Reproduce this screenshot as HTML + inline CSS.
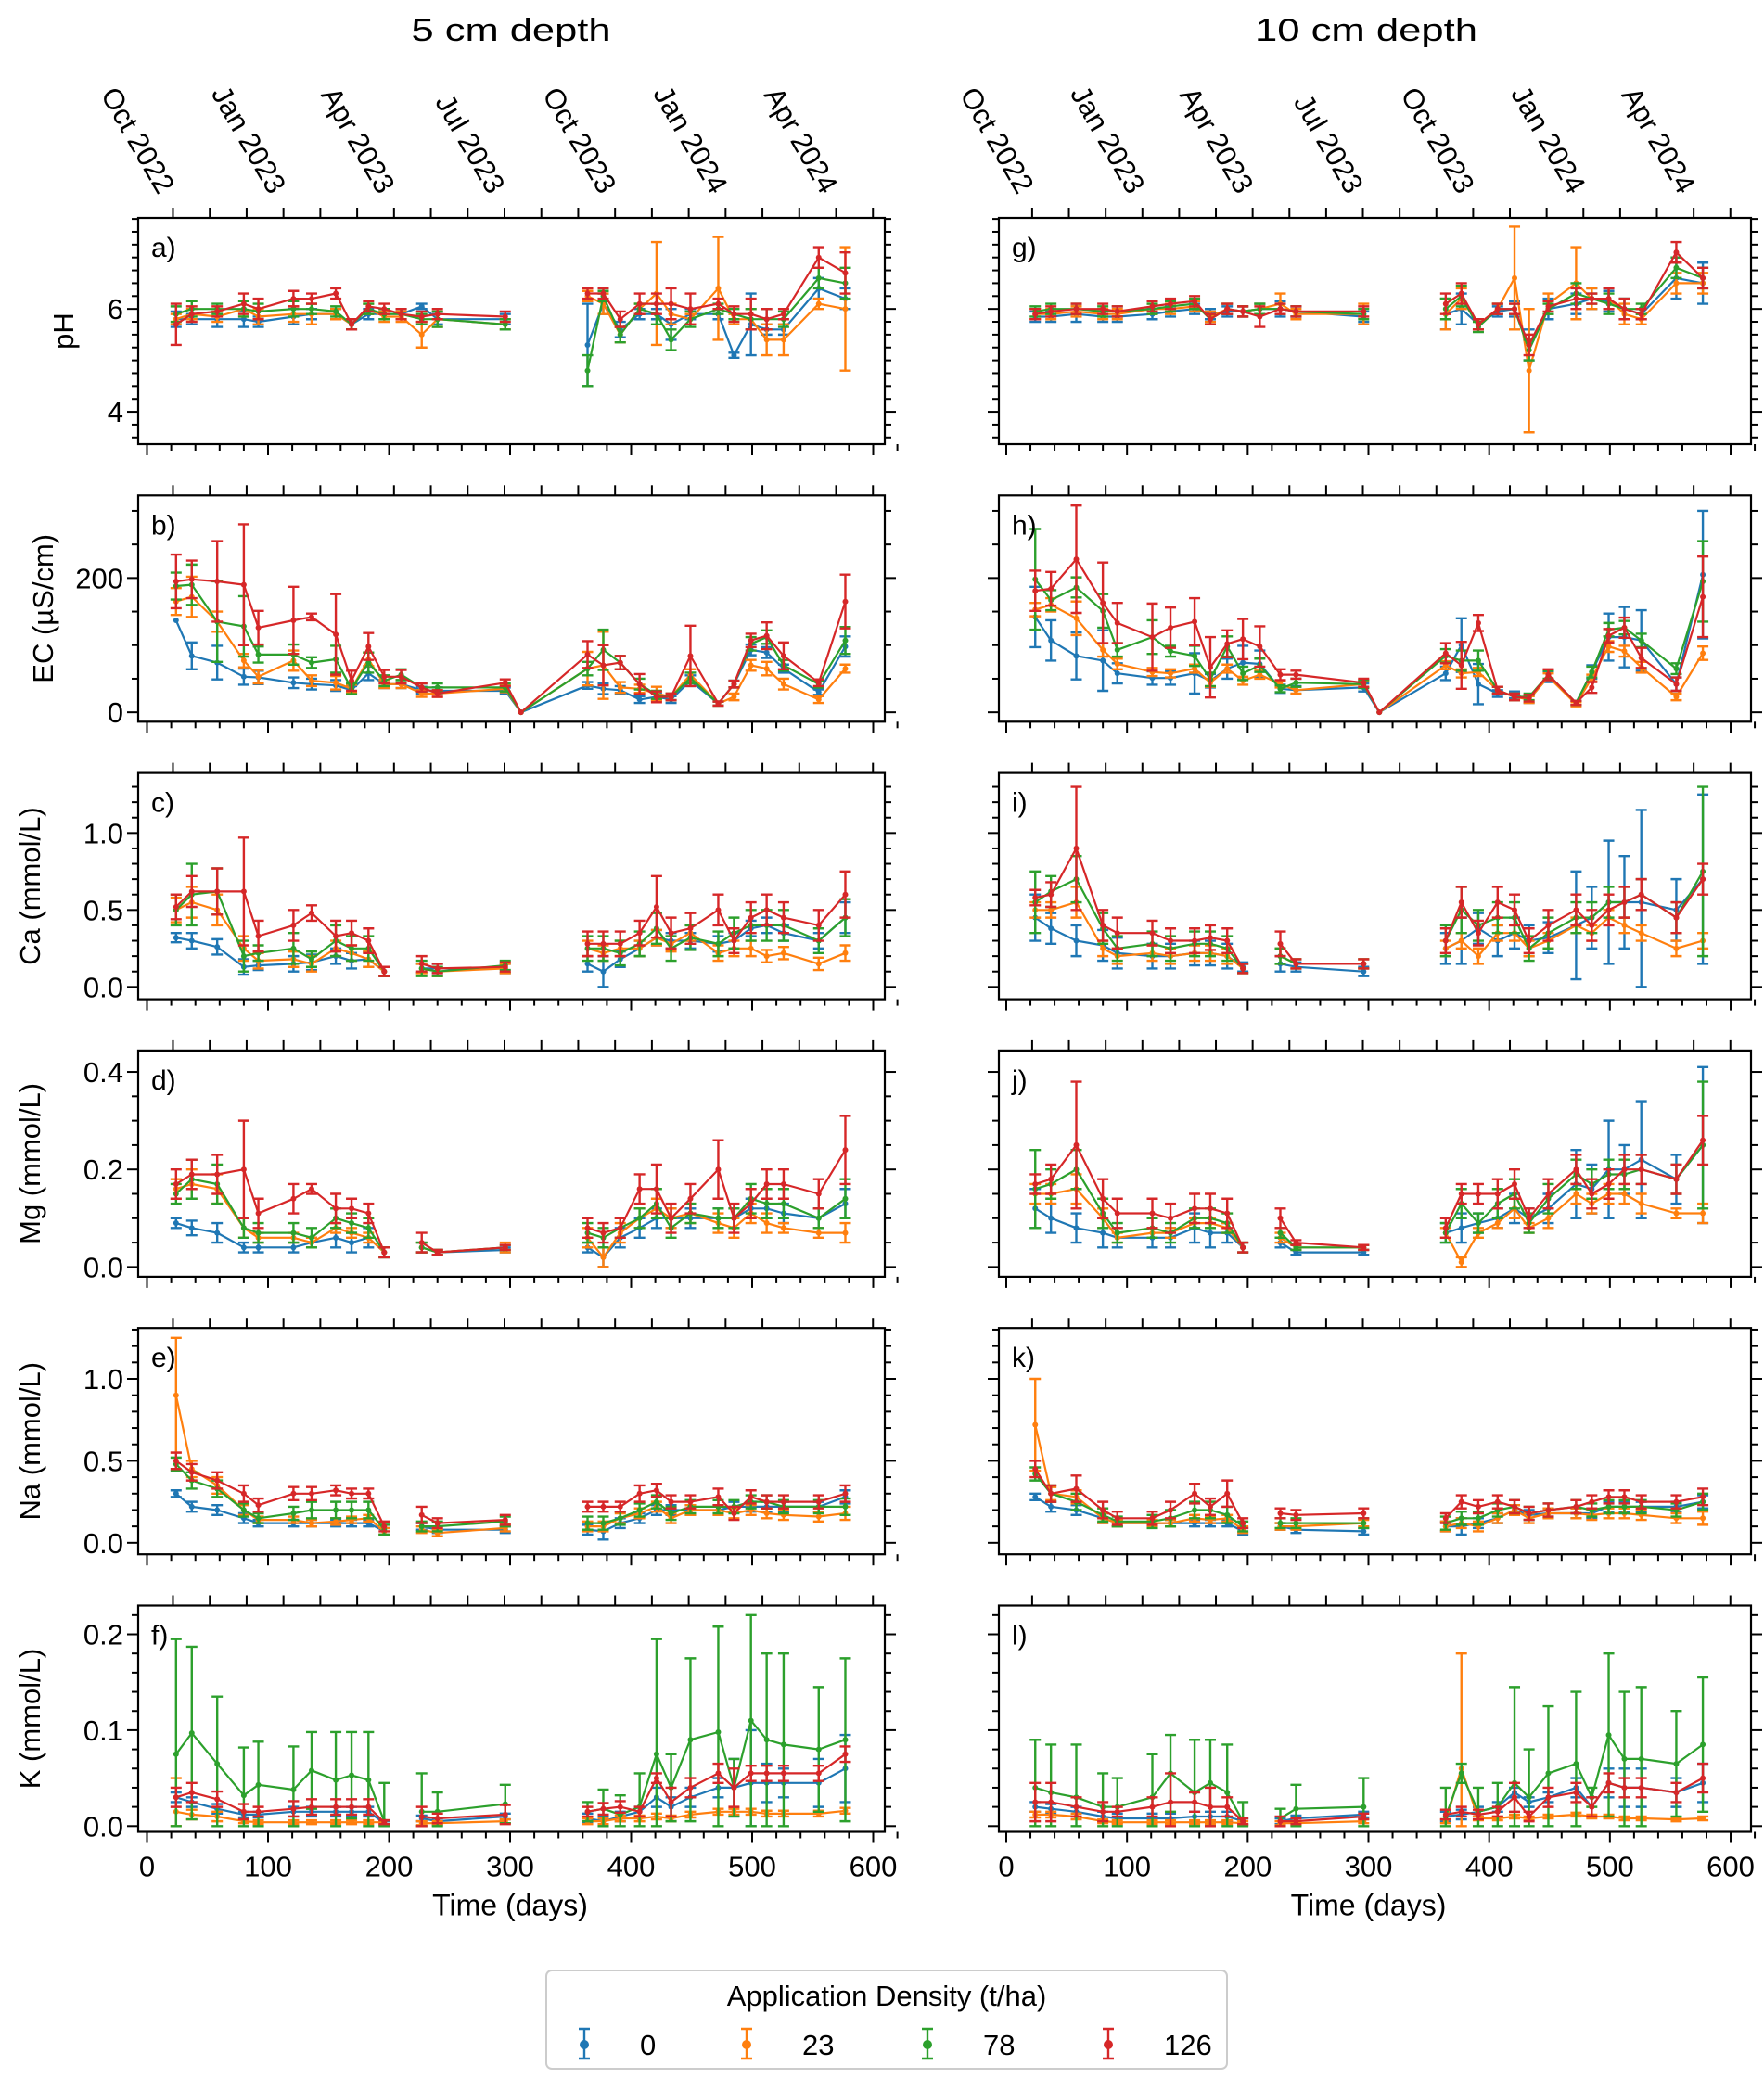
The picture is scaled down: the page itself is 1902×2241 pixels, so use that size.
<!DOCTYPE html>
<html><head><meta charset="utf-8"><style>
html,body{margin:0;padding:0;background:#fff;}
svg{display:block;font-family:"Liberation Sans","DejaVu Sans",sans-serif;}
</style></head><body>
<svg id="fig" width="1902" height="2241" viewBox="0 0 1902 2241" xmlns="http://www.w3.org/2000/svg">
<text x="551" y="44" font-size="34" text-anchor="middle" textLength="215" lengthAdjust="spacingAndGlyphs">5 cm depth</text>
<text x="1473" y="44" font-size="34" text-anchor="middle" textLength="240" lengthAdjust="spacingAndGlyphs">10 cm depth</text>
<g id="plots"></g>
<g>
<rect x="589" y="2125" width="734" height="106" rx="6" fill="#fff" stroke="#ccc" stroke-width="2"/>
<text x="956" y="2163" font-size="31" text-anchor="middle">Application Density (t/ha)</text>
<g id="legend-items"></g>
</g>
</svg>
<script>
const times=[24,37,58,80,92,121,136,156,169,183,196,210,227,240,296,309,364,377,391,407,421,433,449,472,485,499,512,526,555,577];
const seriesLabels=['0','23','78','126'];
const monthTickLabels=['Oct 2022','Jan 2023','Apr 2023','Jul 2023','Oct 2023','Jan 2024','Apr 2024'];
const monthTickDays=[11,103,193,284,376,468,559];
const xTickLabels=[0,100,200,300,400,500,600];

// pH 5 cm
const ph5_0=[5.8,5.8,5.8,5.8,5.75,5.85,5.9,5.9,5.7,5.9,5.9,5.9,6.05,5.8,5.8,null,5.3,6.1,5.6,5.9,5.9,5.7,5.9,5.9,5.1,5.7,5.6,5.6,6.4,6.2];
const ph5_0e=[.15,.1,.15,.15,.1,.15,.1,.1,.1,.1,.1,.1,.05,.1,.1,null,.8,.2,.15,.1,.1,.3,.1,.1,.05,.6,.1,.1,.2,.2];
const ph5_23=[5.8,5.9,5.85,6.0,5.85,5.9,5.9,5.9,5.7,6.0,5.85,5.85,5.5,5.8,5.7,null,6.25,6.1,5.5,6.0,6.3,5.9,5.8,6.4,5.8,5.8,5.4,5.4,6.1,6.0];
const ph5_23e=[.1,.1,.1,.15,.15,.15,.2,.1,.1,.1,.1,.1,.25,.15,.1,null,.1,.2,.15,.1,1.0,.2,.1,1.0,.1,.2,.3,.3,.1,1.2];
const ph5_78=[5.9,6.0,6.0,6.0,5.95,6.0,6.0,5.95,5.7,6.0,5.9,5.9,5.8,5.8,5.7,null,4.8,6.25,5.5,6.0,5.9,5.4,5.8,6.0,5.9,5.8,5.8,5.8,6.6,6.5];
const ph5_78e=[.15,.15,.1,.15,.15,.15,.1,.1,.1,.1,.1,.1,.1,.15,.1,null,.3,.1,.15,.1,.2,.2,.15,.1,.1,.2,.2,.15,.2,.3];
const ph5_126=[5.7,5.9,5.95,6.1,6.0,6.2,6.2,6.3,5.7,6.05,6.0,5.9,5.85,5.9,5.85,null,6.3,6.3,5.8,6.1,6.1,6.1,6.0,6.1,5.9,5.9,5.8,5.9,7.0,6.7];
const ph5_126e=[.4,.15,.1,.2,.2,.15,.1,.1,.1,.1,.1,.1,.1,.1,.1,null,.1,.1,.15,.2,.2,.3,.3,.1,.15,.3,.2,.1,.2,.4];
// pH 10 cm
const ph10_0=[5.85,5.85,5.9,5.85,5.85,5.9,5.95,6.0,5.9,5.95,5.95,6.0,6.0,5.95,5.85,null,5.9,6.0,5.7,5.95,6.0,5.3,6.0,6.1,6.2,6.15,6.0,5.9,6.6,6.5];
const ph10_0e=[.1,.1,.15,.1,.1,.1,.1,.1,.1,.1,.1,.1,.15,.1,.1,null,.3,.3,.1,.1,.15,.3,.2,.2,.2,.2,.2,.1,.4,.4];
const ph10_23=[5.9,5.9,5.95,5.9,5.9,6.0,6.0,6.05,5.85,6.0,5.95,6.0,6.1,5.9,5.9,null,5.9,6.2,5.7,6.0,6.6,4.8,6.1,6.5,6.2,6.2,5.9,5.8,6.5,6.5];
const ph10_23e=[.1,.1,.1,.1,.1,.1,.1,.1,.1,.1,.1,.1,.2,.1,.2,null,.3,.2,.1,.1,1.0,1.2,.2,.7,.2,.2,.2,.1,.2,.2];
const ph10_78=[5.95,6.0,6.0,5.95,5.95,6.0,6.05,6.1,5.8,6.0,5.95,6.0,6.0,5.95,5.9,null,6.0,6.25,5.65,6.0,6.0,5.2,6.0,6.3,6.2,6.1,6.0,6.0,6.8,6.6];
const ph10_78e=[.1,.1,.1,.1,.1,.1,.1,.1,.1,.1,.1,.1,.1,.1,.1,null,.2,.2,.1,.1,.1,.2,.1,.2,.1,.2,.2,.1,.2,.2];
const ph10_126=[5.9,5.95,6.0,6.0,5.95,6.05,6.1,6.15,5.8,6.0,5.95,5.85,6.0,5.95,5.95,null,6.1,6.3,5.7,6.0,6.0,5.3,6.05,6.2,6.2,6.2,6.0,5.9,7.1,6.6];
const ph10_126e=[.1,.1,.1,.1,.1,.1,.1,.1,.1,.1,.1,.2,.1,.1,.1,null,.2,.2,.1,.1,.1,.2,.1,.2,.1,.2,.2,.1,.2,.2];
// EC 5 cm
const ec5_0=[137,84,74,53,52,44,42,40,33,58,42,42,33,32,32,0,40,35,33,19,23,19,47,13,42,93,89,65,30,98];
const ec5_0e=[0,20,25,12,10,8,8,8,6,10,6,6,5,5,5,0,5,8,6,5,5,5,8,3,5,8,8,6,4,15];
const ec5_23=[165,172,135,77,53,77,47,44,35,79,42,42,28,28,35,0,65,70,37,35,28,23,56,13,23,70,65,42,19,65];
const ec5_23e=[20,30,15,10,10,15,8,10,6,10,6,6,5,5,5,0,25,50,8,6,10,5,8,3,5,8,10,8,5,6];
const ec5_78=[188,190,135,128,86,86,74,79,35,74,47,56,37,37,37,0,65,93,74,42,26,23,51,13,42,102,112,70,42,107];
const ec5_78e=[20,30,60,45,12,15,8,20,8,15,8,8,6,6,6,0,10,30,10,8,6,5,8,3,5,10,10,8,5,20];
const ec5_126=[195,198,195,190,126,137,142,116,47,98,53,53,37,28,44,0,86,70,74,42,23,23,84,13,42,107,114,84,44,165];
const ec5_126e=[40,28,60,90,25,50,5,60,15,20,10,10,6,5,5,0,20,30,10,15,8,5,45,3,5,10,20,20,5,40];
// EC 10 cm
const ec10_0=[142,107,84,77,58,51,51,58,47,65,74,72,35,33,37,0,58,100,42,28,26,19,53,14,60,112,112,107,42,205];
const ec10_0e=[45,30,35,45,15,10,10,30,10,15,25,20,6,6,6,0,10,40,30,5,5,5,8,3,10,35,45,45,10,95];
const ec10_23=[153,160,140,93,72,60,58,65,44,65,47,56,42,33,42,0,70,58,60,33,23,19,53,12,51,98,91,67,23,88];
const ec10_23e=[10,10,25,10,8,6,6,6,6,6,6,6,5,5,5,0,6,6,6,5,5,5,5,3,5,8,8,8,5,10];
const ec10_78=[198,167,186,151,93,112,91,84,49,98,58,70,35,44,42,0,84,77,77,33,23,23,56,14,60,123,126,107,65,195];
const ec10_78e=[75,15,15,25,10,25,8,15,10,15,10,10,5,6,6,0,10,15,15,5,5,5,6,3,8,10,10,10,8,60];
const ec10_126=[181,184,228,163,133,112,126,135,67,102,109,98,56,56,44,0,88,70,133,33,23,21,56,14,37,114,126,81,42,172];
const ec10_126e=[30,25,80,60,30,50,30,35,45,20,30,30,8,6,6,0,15,35,12,5,5,5,8,3,8,10,15,15,10,60];
// Ca 5 cm
const ca5_0=[0.32,0.30,0.26,0.13,0.14,0.15,0.16,0.20,0.17,0.18,0.10,null,0.12,0.12,0.12,null,0.15,0.10,0.18,0.25,0.32,0.30,0.30,0.28,0.30,0.38,0.40,0.35,0.30,0.45];
const ca5_0e=[.03,.05,.05,.05,.03,.05,.05,.05,.05,.05,.03,null,.03,.03,.03,null,.05,.1,.05,.05,.05,.05,.05,.05,.05,.05,.05,.05,.05,.1];
const ca5_23=[0.50,0.55,0.50,0.25,0.17,0.18,0.15,0.25,0.22,0.18,0.10,null,0.12,0.10,0.12,null,0.25,0.22,0.25,0.25,0.32,0.28,0.35,0.22,0.25,0.25,0.20,0.22,0.15,0.22];
const ca5_23e=[.08,.1,.1,.08,.05,.05,.05,.05,.05,.05,.03,null,.03,.03,.03,null,.05,.05,.05,.05,.05,.05,.05,.05,.05,.05,.04,.04,.04,.05];
const ca5_78=[0.50,0.60,0.62,0.20,0.22,0.25,0.18,0.30,0.25,0.25,0.10,null,0.12,0.10,0.14,null,0.25,0.25,0.22,0.28,0.38,0.25,0.32,0.28,0.35,0.40,0.40,0.40,0.30,0.45];
const ca5_78e=[.1,.2,.15,.1,.05,.1,.05,.1,.08,.08,.03,null,.05,.03,.03,null,.08,.08,.08,.08,.1,.08,.08,.08,.1,.1,.1,.1,.08,.12];
const ca5_126=[0.52,0.62,0.62,0.62,0.33,0.40,0.48,0.33,0.35,0.30,0.10,null,0.15,0.12,0.13,null,0.28,0.28,0.28,0.35,0.52,0.35,0.38,0.50,0.30,0.45,0.50,0.45,0.40,0.60];
const ca5_126e=[.08,.1,.15,.35,.1,.1,.05,.1,.08,.08,.03,null,.05,.03,.03,null,.08,.08,.08,.08,.2,.1,.1,.1,.08,.1,.1,.1,.1,.15];
// Ca 10 cm
const ca10_0=[0.45,0.38,0.30,0.27,0.22,0.20,0.20,0.22,0.22,0.20,0.13,null,0.15,0.13,0.10,null,0.25,0.30,0.38,0.30,0.35,0.30,0.32,0.40,0.45,0.55,0.55,0.55,0.50,0.70];
const ca10_0e=[.15,.1,.1,.1,.1,.08,.08,.08,.08,.08,.03,null,.05,.03,.03,null,.1,.15,.1,.1,.1,.1,.1,.35,.2,.4,.3,.6,.2,.55];
const ca10_23=[0.50,0.50,0.55,0.25,0.20,0.22,0.20,0.22,0.22,0.20,0.12,null,0.20,0.15,0.15,null,0.25,0.30,0.20,0.35,0.35,0.25,0.30,0.40,0.35,0.45,0.40,0.35,0.25,0.30];
const ca10_23e=[.05,.05,.1,.05,.05,.05,.05,.05,.05,.05,.03,null,.05,.03,.03,null,.05,.05,.05,.05,.05,.05,.05,.05,.05,.05,.05,.05,.05,.05];
const ca10_78=[0.55,0.62,0.70,0.38,0.25,0.28,0.25,0.28,0.28,0.25,0.12,null,0.20,0.15,0.15,null,0.30,0.50,0.40,0.45,0.45,0.25,0.35,0.45,0.45,0.55,0.55,0.60,0.45,0.75];
const ca10_78e=[.2,.1,.15,.1,.08,.08,.08,.08,.08,.08,.03,null,.05,.03,.03,null,.1,.15,.1,.1,.1,.08,.1,.1,.1,.1,.1,.1,.1,.55];
const ca10_126=[0.58,0.60,0.90,0.40,0.35,0.35,0.30,0.30,0.32,0.30,0.12,null,0.28,0.15,0.15,null,0.30,0.55,0.35,0.55,0.50,0.30,0.40,0.50,0.40,0.50,0.55,0.60,0.45,0.70];
const ca10_126e=[.05,.08,.4,.1,.1,.08,.08,.08,.08,.08,.03,null,.08,.03,.03,null,.08,.1,.08,.1,.1,.08,.1,.1,.1,.1,.1,.1,.1,.1];
// Mg 5 cm
const mg5_0=[0.09,0.08,0.07,0.04,0.04,0.04,0.05,0.06,0.05,0.06,0.03,null,0.04,0.03,0.035,null,0.04,0.02,0.06,0.08,0.10,0.10,0.10,0.10,0.10,0.12,0.12,0.11,0.10,0.13];
const mg5_0e=[.01,.015,.02,.01,.01,.01,.01,.02,.02,.02,.01,null,.01,.005,.005,null,.01,.02,.02,.02,.02,.02,.02,.02,.02,.02,.02,.02,.02,.03];
const mg5_23=[0.16,0.17,0.16,0.08,0.06,0.06,0.05,0.08,0.07,0.06,0.03,null,0.04,0.03,0.04,null,0.06,0.02,0.07,0.10,0.12,0.10,0.11,0.09,0.08,0.11,0.09,0.08,0.07,0.07];
const mg5_23e=[.02,.03,.03,.02,.01,.01,.01,.01,.01,.01,.01,null,.01,.005,.01,null,.02,.02,.02,.02,.02,.02,.02,.02,.02,.02,.02,.01,.01,.02];
const mg5_78=[0.15,0.18,0.17,0.08,0.07,0.07,0.06,0.10,0.09,0.08,0.03,null,0.04,0.03,0.04,null,0.07,0.06,0.08,0.10,0.13,0.08,0.11,0.10,0.10,0.14,0.13,0.13,0.10,0.14];
const mg5_78e=[.02,.04,.04,.02,.02,.02,.02,.02,.02,.02,.01,null,.01,.005,.005,null,.02,.02,.02,.02,.03,.02,.02,.02,.02,.03,.03,.03,.02,.04];
const mg5_126=[0.17,0.19,0.19,0.20,0.11,0.14,0.16,0.12,0.12,0.11,0.03,null,0.05,0.03,0.04,null,0.08,0.07,0.08,0.16,0.16,0.10,0.14,0.20,0.10,0.13,0.17,0.17,0.15,0.24];
const mg5_126e=[.03,.03,.04,.1,.03,.03,.01,.03,.02,.02,.01,null,.02,.005,.005,null,.02,.02,.02,.03,.05,.03,.03,.06,.03,.03,.03,.03,.03,.07];
// Mg 10 cm
const mg10_0=[0.12,0.10,0.08,0.07,0.06,0.06,0.06,0.08,0.07,0.07,0.04,null,0.05,0.03,0.03,null,0.07,0.08,0.09,0.10,0.12,0.10,0.12,0.17,0.16,0.20,0.20,0.22,0.18,0.25];
const mg10_0e=[.04,.03,.03,.03,.02,.02,.02,.03,.03,.02,.01,null,.01,.005,.005,null,.02,.03,.02,.02,.03,.02,.03,.07,.05,.1,.05,.12,.05,.16];
const mg10_23=[0.15,0.15,0.16,0.10,0.06,0.07,0.07,0.09,0.09,0.08,0.04,null,0.06,0.04,0.04,null,0.07,0.01,0.07,0.09,0.12,0.08,0.10,0.15,0.13,0.15,0.15,0.13,0.11,0.11];
const mg10_23e=[.02,.02,.03,.02,.01,.01,.01,.01,.01,.01,.01,null,.01,.005,.005,null,.01,.01,.01,.01,.02,.01,.02,.02,.02,.02,.02,.02,.01,.02];
const mg10_78=[0.16,0.17,0.20,0.11,0.07,0.08,0.07,0.10,0.10,0.09,0.04,null,0.07,0.04,0.04,null,0.07,0.13,0.09,0.13,0.15,0.09,0.14,0.19,0.17,0.19,0.19,0.20,0.18,0.25];
const mg10_78e=[.08,.03,.04,.03,.02,.02,.02,.02,.02,.02,.01,null,.01,.005,.005,null,.02,.03,.02,.03,.03,.02,.03,.03,.03,.03,.03,.03,.03,.13];
const mg10_126=[0.17,0.18,0.25,0.14,0.11,0.11,0.10,0.12,0.12,0.11,0.04,null,0.10,0.05,0.04,null,0.08,0.15,0.15,0.15,0.17,0.10,0.15,0.20,0.15,0.17,0.20,0.20,0.18,0.26];
const mg10_126e=[.02,.03,.13,.04,.03,.03,.03,.03,.03,.03,.01,null,.02,.005,.005,null,.02,.02,.02,.03,.03,.02,.03,.03,.03,.03,.03,.03,.03,.05];
// Na 5 cm
const na5_0=[0.30,0.22,0.20,0.15,0.12,0.12,0.12,0.12,0.12,0.12,0.07,null,0.10,0.08,0.08,null,0.08,0.07,0.12,0.15,0.20,0.20,0.20,0.20,0.22,0.22,0.22,0.22,0.22,0.28];
const na5_0e=[.02,.03,.03,.03,.02,.02,.02,.02,.02,.02,.02,null,.02,.02,.02,null,.03,.05,.03,.03,.03,.03,.03,.03,.03,.03,.03,.03,.03,.04];
const na5_23=[0.90,0.45,0.35,0.20,0.14,0.14,0.12,0.13,0.14,0.15,0.07,null,0.08,0.06,0.09,null,0.10,0.10,0.15,0.18,0.22,0.15,0.20,0.20,0.18,0.20,0.18,0.17,0.16,0.18];
const na5_23e=[.35,.05,.05,.03,.02,.02,.02,.02,.02,.02,.02,null,.02,.02,.02,null,.03,.03,.03,.03,.03,.03,.03,.03,.03,.03,.03,.03,.03,.04];
const na5_78=[0.48,0.38,0.33,0.20,0.15,0.18,0.20,0.20,0.20,0.20,0.08,null,0.10,0.10,0.13,null,0.12,0.12,0.15,0.20,0.25,0.18,0.22,0.22,0.22,0.25,0.25,0.22,0.22,0.22];
const na5_78e=[.04,.05,.05,.04,.03,.04,.05,.05,.05,.05,.03,null,.03,.03,.03,null,.04,.04,.04,.04,.04,.04,.04,.04,.04,.04,.04,.04,.04,.05];
const na5_126=[0.50,0.43,0.38,0.30,0.23,0.30,0.30,0.32,0.30,0.30,0.10,null,0.17,0.12,0.14,null,0.22,0.22,0.22,0.30,0.32,0.25,0.25,0.28,0.18,0.28,0.25,0.25,0.25,0.30];
const na5_126e=[.05,.05,.05,.05,.04,.04,.04,.03,.03,.03,.03,null,.05,.03,.03,null,.03,.03,.03,.05,.04,.04,.04,.05,.04,.04,.04,.04,.04,.05];
// Na 10 cm
const na10_0=[0.28,0.22,0.20,0.15,0.12,0.12,0.12,0.12,0.12,0.12,0.07,null,0.10,0.08,0.07,null,0.10,0.10,0.12,0.15,0.20,0.17,0.18,0.18,0.18,0.22,0.22,0.22,0.22,0.25];
const na10_0e=[.02,.03,.03,.03,.02,.02,.02,.02,.02,.02,.02,null,.02,.02,.02,null,.03,.05,.03,.03,.03,.03,.03,.03,.03,.03,.03,.03,.03,.04];
const na10_23=[0.72,0.30,0.28,0.15,0.12,0.12,0.12,0.15,0.14,0.15,0.08,null,0.10,0.10,0.12,null,0.10,0.12,0.10,0.15,0.20,0.15,0.18,0.18,0.17,0.18,0.18,0.17,0.15,0.15];
const na10_23e=[.28,.04,.04,.03,.02,.02,.02,.02,.02,.02,.02,null,.02,.02,.02,null,.03,.03,.03,.03,.03,.03,.03,.03,.03,.03,.03,.03,.03,.04];
const na10_78=[0.42,0.30,0.25,0.17,0.13,0.13,0.15,0.20,0.20,0.17,0.10,null,0.12,0.12,0.12,null,0.12,0.15,0.15,0.20,0.22,0.18,0.20,0.22,0.20,0.22,0.22,0.22,0.20,0.25];
const na10_78e=[.04,.05,.05,.04,.03,.04,.05,.05,.05,.05,.03,null,.03,.03,.03,null,.04,.04,.04,.04,.04,.04,.04,.04,.04,.04,.04,.04,.04,.05];
const na10_126=[0.45,0.30,0.33,0.20,0.15,0.15,0.20,0.30,0.22,0.30,0.12,null,0.18,0.17,0.18,null,0.15,0.25,0.22,0.25,0.22,0.18,0.20,0.22,0.25,0.28,0.28,0.25,0.25,0.28];
const na10_126e=[.05,.05,.08,.05,.04,.04,.05,.06,.05,.08,.03,null,.03,.03,.03,null,.03,.04,.04,.04,.04,.04,.04,.04,.04,.04,.04,.04,.04,.05];
// K 5 cm
const k5_0=[0.03,0.025,0.018,0.012,0.012,0.015,0.015,0.015,0.015,0.015,0.003,null,0.008,0.005,0.01,null,0.008,0.005,0.01,0.015,0.03,0.02,0.03,0.04,0.04,0.045,0.045,0.045,0.045,0.06];
const k5_0e=[.005,.005,.005,.003,.003,.005,.005,.005,.005,.005,.002,null,.003,.003,.003,null,.005,.005,.005,.005,.01,.01,.01,.01,.03,.055,.02,.015,.025,.035];
const k5_23=[0.015,0.012,0.01,0.005,0.004,0.004,0.004,0.004,0.004,0.004,0.004,null,0.003,0.003,0.005,null,0.005,0.005,0.008,0.008,0.01,0.008,0.012,0.015,0.015,0.015,0.013,0.013,0.013,0.016];
const k5_23e=[.035,.005,.005,.002,.002,.002,.002,.002,.002,.002,.002,null,.002,.002,.002,null,.003,.003,.003,.003,.003,.003,.003,.003,.003,.003,.003,.003,.003,.003];
const k5_78=[0.075,0.097,0.065,0.032,0.043,0.038,0.058,0.048,0.053,0.048,0.005,null,0.015,0.015,0.023,null,0.015,0.018,0.012,0.02,0.075,0.04,0.09,0.098,0.04,0.11,0.09,0.085,0.08,0.09];
const k5_78e=[.12,.09,.07,.05,.045,.045,.04,.05,.045,.05,.04,null,.04,.02,.02,null,.01,.02,.02,.035,.12,.035,.085,.11,.03,.11,.09,.095,.065,.085];
const k5_126=[0.03,0.035,0.028,0.015,0.015,0.018,0.02,0.02,0.02,0.02,0.004,null,0.01,0.008,0.012,null,0.015,0.018,0.02,0.015,0.05,0.025,0.04,0.055,0.04,0.055,0.055,0.055,0.055,0.075];
const k5_126e=[.01,.01,.008,.008,.005,.008,.008,.008,.008,.008,.002,null,.01,.005,.01,null,.005,.006,.006,.005,.005,.015,.01,.01,.02,.008,.008,.008,.008,.008];
// K 10 cm
const k10_0=[0.02,0.018,0.015,0.01,0.008,0.008,0.008,0.01,0.01,0.01,0.005,null,0.005,0.008,0.012,null,0.01,0.012,0.015,0.02,0.035,0.025,0.03,0.04,0.02,0.045,0.04,0.04,0.035,0.045];
const k10_0e=[.005,.005,.005,.005,.005,.005,.005,.005,.005,.005,.003,null,.003,.003,.003,null,.005,.005,.005,.005,.005,.005,.005,.01,.01,.015,.02,.02,.015,.02];
const k10_23=[0.012,0.012,0.01,0.005,0.004,0.004,0.004,0.004,0.004,0.004,0.003,null,0.003,0.003,0.005,null,0.005,0.06,0.008,0.008,0.01,0.008,0.01,0.012,0.01,0.01,0.008,0.008,0.007,0.008];
const k10_23e=[.003,.003,.003,.002,.002,.002,.002,.002,.002,.002,.002,null,.002,.002,.002,null,.002,.12,.002,.002,.002,.002,.002,.002,.002,.002,.002,.002,.002,.002];
const k10_78=[0.04,0.035,0.03,0.02,0.02,0.03,0.055,0.035,0.045,0.035,0.005,null,0.008,0.018,0.02,null,0.01,0.055,0.015,0.02,0.045,0.03,0.055,0.065,0.03,0.095,0.07,0.07,0.065,0.085];
const k10_78e=[.05,.05,.055,.035,.03,.045,.04,.055,.045,.05,.02,null,.01,.025,.03,null,.03,.01,.025,.025,.1,.05,.07,.075,.01,.085,.07,.075,.055,.07];
const k10_126=[0.025,0.025,0.02,0.015,0.015,0.02,0.025,0.025,0.02,0.02,0.005,null,0.005,0.005,0.01,null,0.012,0.015,0.012,0.015,0.03,0.01,0.03,0.035,0.02,0.045,0.04,0.04,0.035,0.05];
const k10_126e=[.02,.02,.01,.01,.005,.01,.03,.01,.02,.01,.003,null,.005,.003,.003,null,.005,.005,.005,.005,.015,.005,.01,.01,.01,.01,.01,.01,.01,.015];

const COLORS=['#1f77b4','#ff7f0e','#2ca02c','#d62728'];
const NS='http://www.w3.org/2000/svg';
const rows=[
 {name:'ph',label:'pH',lx:79,ymin:3.37,ymax:7.77,major:[4,6],fmt:v=>String(v),minor:0.25,
  L:['a)',[ph5_0,ph5_23,ph5_78,ph5_126],[ph5_0e,ph5_23e,ph5_78e,ph5_126e]],
  R:['g)',[ph10_0,ph10_23,ph10_78,ph10_126],[ph10_0e,ph10_23e,ph10_78e,ph10_126e]]},
 {name:'ec',label:'EC (µS/cm)',lx:57,ymin:-14,ymax:323,major:[0,200],fmt:v=>String(v),minor:50,
  L:['b)',[ec5_0,ec5_23,ec5_78,ec5_126],[ec5_0e,ec5_23e,ec5_78e,ec5_126e]],
  R:['h)',[ec10_0,ec10_23,ec10_78,ec10_126],[ec10_0e,ec10_23e,ec10_78e,ec10_126e]]},
 {name:'ca',label:'Ca (mmol/L)',lx:43,ymin:-0.08,ymax:1.39,major:[0,0.5,1.0],fmt:v=>v.toFixed(1),minor:0.1,
  L:['c)',[ca5_0,ca5_23,ca5_78,ca5_126],[ca5_0e,ca5_23e,ca5_78e,ca5_126e]],
  R:['i)',[ca10_0,ca10_23,ca10_78,ca10_126],[ca10_0e,ca10_23e,ca10_78e,ca10_126e]]},
 {name:'mg',label:'Mg (mmol/L)',lx:43,ymin:-0.02,ymax:0.444,major:[0,0.2,0.4],fmt:v=>v.toFixed(1),minor:0.05,
  L:['d)',[mg5_0,mg5_23,mg5_78,mg5_126],[mg5_0e,mg5_23e,mg5_78e,mg5_126e]],
  R:['j)',[mg10_0,mg10_23,mg10_78,mg10_126],[mg10_0e,mg10_23e,mg10_78e,mg10_126e]]},
 {name:'na',label:'Na (mmol/L)',lx:43,ymin:-0.07,ymax:1.31,major:[0,0.5,1.0],fmt:v=>v.toFixed(1),minor:0.1,
  L:['e)',[na5_0,na5_23,na5_78,na5_126],[na5_0e,na5_23e,na5_78e,na5_126e]],
  R:['k)',[na10_0,na10_23,na10_78,na10_126],[na10_0e,na10_23e,na10_78e,na10_126e]]},
 {name:'k',label:'K (mmol/L)',lx:43,ymin:-0.006,ymax:0.23,major:[0,0.1,0.2],fmt:v=>v.toFixed(1),minor:0.02,
  L:['f)',[k5_0,k5_23,k5_78,k5_126],[k5_0e,k5_23e,k5_78e,k5_126e]],
  R:['l)',[k10_0,k10_23,k10_78,k10_126],[k10_0e,k10_23e,k10_78e,k10_126e]]}
];
const cols=[{x0:149,x1:954,ox:158.5,k:1.305},{x0:1077,x1:1888,ox:1085,k:1.3017}];
const ROW0=235,ROWSTEP=299.3,ROWH=244;
const plots=document.getElementById('plots');
function mk(tag,attrs,parent){const e=document.createElementNS(NS,tag);for(const a in attrs)e.setAttribute(a,attrs[a]);(parent||plots).appendChild(e);return e;}

rows.forEach((row,ri)=>{
 const top=ROW0+ri*ROWSTEP,bot=top+ROWH;
 const yS=v=>bot-(v-row.ymin)/(row.ymax-row.ymin)*ROWH;
 [row.L,row.R].forEach((pd,ci)=>{
  const c=cols[ci];const xS=d=>c.ox+d*c.k;
  const g=mk('g',{});
  
  
  const tk=mk('g',{stroke:'#000','stroke-width':2},g);
  
  
  for(let d=0;d<=620;d+=20){const x=xS(d);const len=(d%100===0)?12:7;
   mk('line',{x1:x,x2:x,y1:bot,y2:bot+len},tk);}
  for(let m=-20;m<=600;m+=30.44){const d=11+m;const x=xS(d);if(x<c.x0||x>c.x1)continue;
   mk('line',{x1:x,x2:x,y1:top,y2:top-11},tk);}
  for(let v=Math.ceil(row.ymin/row.minor)*row.minor;v<=row.ymax;v+=row.minor){const y=yS(v);
   const isMaj=row.major.some(m=>Math.abs(m-v)<1e-6);const len=isMaj?12:7;
   mk('line',{x1:c.x0,x2:c.x0-len,y1:y,y2:y},tk);mk('line',{x1:c.x1,x2:c.x1+len,y1:y,y2:y},tk);}
  if(ci===0){row.major.forEach(v=>{const t=mk('text',{x:c.x0-16,y:yS(v)+11,'font-size':31,'text-anchor':'end'},g);
    
    
    t.textContent=row.fmt(v);});
   const yl=mk('text',{x:row.lx,y:(top+bot)/2,'font-size':31,'text-anchor':'middle',transform:`rotate(-90 ${row.lx} ${(top+bot)/2})`},g);
   
   
   yl.textContent=row.label;}
  if(ri===0){monthTickLabels.forEach((lab,i)=>{const x=xS(monthTickDays[i]);
    const t=mk('text',{x:0,y:0,'font-size':31,'text-anchor':'end',transform:`translate(${x-2},${top-24}) rotate(60)`},g);
    
    
    t.textContent=lab;});}
  if(ri===rows.length-1){xTickLabels.forEach(v=>{const t=mk('text',{x:xS(v),y:bot+48,'font-size':31,'text-anchor':'middle'},g);
    
    
    t.textContent=v;});
   const xt=mk('text',{x:xS(300),y:bot+90,'font-size':32,'text-anchor':'middle'},g);
   
   
   xt.textContent='Time (days)';}
  pd[1].forEach((vals,si)=>{const errs=pd[2][si];const col=COLORS[si];
   const sg=mk('g',{},g);
   
   
   let d='',pen=false;
   vals.forEach((v,i)=>{if(v===null){pen=false;return;}d+=(pen?'L':'M')+xS(times[i]).toFixed(1)+' '+yS(v).toFixed(1)+' ';pen=true;});
   const ln=mk('path',{d:d,fill:'none',stroke:col,'stroke-width':2.2,'stroke-linejoin':'round'},sg);
   
   
   vals.forEach((v,i)=>{if(v===null)return;const x=xS(times[i]);const e=errs[i]||0;
    if(e>0){const y1=yS(v+e),y2=yS(Math.max(v-e,0));
     const eb=mk('path',{d:`M${x} ${y1}L${x} ${y2}M${x-6} ${y1}L${x+6} ${y1}M${x-6} ${y2}L${x+6} ${y2}`,stroke:col,'stroke-width':2.4,fill:'none'},sg);
     
     }
    const pt=mk('circle',{cx:x,cy:yS(v),r:3,fill:col},sg);
    
    });
  });
  const fr=mk('rect',{x:c.x0,y:top,width:c.x1-c.x0,height:ROWH,fill:'none',stroke:'#000','stroke-width':2.2},g);
  
  
  const pl=mk('text',{x:c.x0+14,y:top+42,'font-size':30},g);
  
  
  pl.textContent=pd[0];
 });
});
const li=document.getElementById('legend-items');
const legX=[630,805,1000,1195];
seriesLabels.forEach((lab,i)=>{const x=legX[i];const g=mk('g',{},li);
 
 
 mk('path',{d:`M${x} 2188L${x} 2220M${x-6} 2188L${x+6} 2188M${x-6} 2220L${x+6} 2220`,stroke:COLORS[i],'stroke-width':2.4,fill:'none'},g);
 mk('circle',{cx:x,cy:2205,r:5,fill:COLORS[i]},g);
 const t=mk('text',{x:x+60,y:2216,'font-size':31},g);
 
 
 t.textContent=lab;});
</script>
</body></html>
